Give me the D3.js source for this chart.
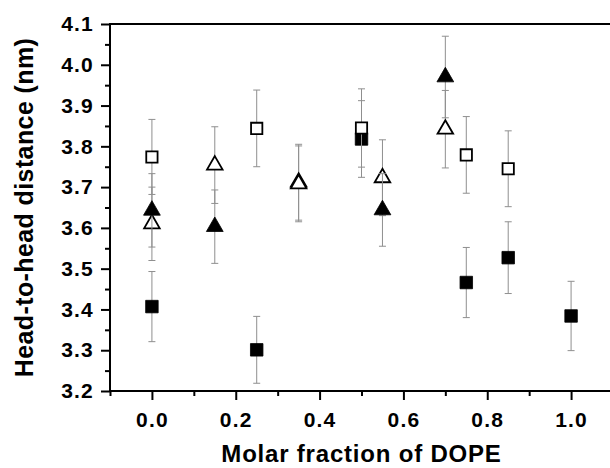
<!DOCTYPE html>
<html>
<head>
<meta charset="utf-8">
<script src="https://cdn.jsdelivr.net/npm/d3@7"></script>
<style>
  html, body { margin: 0; padding: 0; background: #fff; }
  svg { display: block; }
  text { font-family: "Liberation Sans", Arial, sans-serif; font-weight: bold; fill: #000; }
</style>
</head>
<body>
<svg id="chart" width="610" height="468"></svg>
<script>
// ---- data ----
const xTickValues = [0.0, 0.2, 0.4, 0.6, 0.8, 1.0];
const xTickLabels = ["0.0", "0.2", "0.4", "0.6", "0.8", "1.0"];
const yTickValues = [3.2, 3.3, 3.4, 3.5, 3.6, 3.7, 3.8, 3.9, 4.0, 4.1];
const yTickLabels = ["3.2", "3.3", "3.4", "3.5", "3.6", "3.7", "3.8", "3.9", "4.0", "4.1"];

const filledSquareX = [0, 0.25, 0.5, 0.75, 0.85, 1.0];
const filledSquareY = [3.407, 3.301, 3.818, 3.466, 3.527, 3.384];
const filledSquareErr = [0.086, 0.082, 0.094, 0.086, 0.088, 0.085];

const openSquareX = [0, 0.25, 0.5, 0.75, 0.85];
const openSquareY = [3.774, 3.844, 3.845, 3.779, 3.745];
const openSquareErr = [0.092, 0.094, 0.096, 0.094, 0.093];

const openTriX = [0, 0.15, 0.35, 0.35, 0.55, 0.7];
const openTriY = [3.610, 3.754, 3.712, 3.708, 3.723, 3.842];
const openTriErr = [0.090, 0.094, 0.093, 0.093, 0.093, 0.095];

const filledTriX = [0, 0.15, 0.55, 0.7];
const filledTriY = [3.643, 3.603, 3.644, 3.970];
const filledTriErr = [0.090, 0.090, 0.089, 0.100];

const xTitle = "Molar fraction of DOPE";
const yTitle = "Head-to-head distance (nm)";

// ---- layout ----
const svg = d3.select("#chart");
const x = d3.scaleLinear().domain([-0.1, 1.1]).range([110, 613]);
const y = d3.scaleLinear().domain([3.2, 4.1]).range([391, 24]);

// ---- axes ----
const xMinor = d3.range(-0.1, 1.1001, 0.1).map(v => +v.toFixed(2)).filter(v => !xTickValues.some(t => Math.abs(t - v) < 1e-6));
const yMinor = d3.range(3.25, 4.1, 0.1).map(v => +v.toFixed(2));

function styleAxis(g) {
  g.select(".domain").remove();
  g.selectAll(".tick line").attr("stroke", "#000").attr("stroke-width", 2);
}

// minor ticks
svg.append("g").attr("transform", `translate(0,${y.range()[0]})`)
  .call(d3.axisBottom(x).tickValues(xMinor).tickSize(5).tickFormat(""))
  .call(styleAxis);
svg.append("g").attr("transform", `translate(${x.range()[0]},0)`)
  .call(d3.axisLeft(y).tickValues(yMinor).tickSize(5).tickFormat(""))
  .call(styleAxis);

// major ticks
const gx = svg.append("g").attr("transform", `translate(0,${y.range()[0]})`)
  .call(d3.axisBottom(x).tickValues(xTickValues).tickSize(9).tickPadding(12)
    .tickFormat((d, i) => xTickLabels[i]))
  .call(styleAxis);
gx.selectAll(".tick text").attr("font-size", 21).attr("letter-spacing", "1.2px")
  .attr("font-family", "Liberation Sans, Arial, sans-serif").attr("font-weight", "bold").attr("fill", "#000");

const gy = svg.append("g").attr("transform", `translate(${x.range()[0]},0)`)
  .call(d3.axisLeft(y).tickValues(yTickValues).tickSize(9).tickPadding(7)
    .tickFormat((d, i) => yTickLabels[i]))
  .call(styleAxis);
gy.selectAll(".tick text").attr("font-size", 21).attr("letter-spacing", "1.2px")
  .attr("font-family", "Liberation Sans, Arial, sans-serif").attr("font-weight", "bold").attr("fill", "#000");

// axis lines (left, bottom, top)
const [x0, x1] = x.range();
const [yb, yt] = y.range();
svg.append("line").attr("x1", x0).attr("x2", x1).attr("y1", yb).attr("y2", yb).attr("stroke", "#000").attr("stroke-width", 2);
svg.append("line").attr("x1", x0).attr("x2", x1).attr("y1", yt).attr("y2", yt).attr("stroke", "#000").attr("stroke-width", 2);
svg.append("line").attr("x1", x0).attr("x2", x0).attr("y1", yb + 1).attr("y2", yt - 1).attr("stroke", "#000").attr("stroke-width", 2);

// titles
svg.append("text").attr("x", (x0 + x1) / 2).attr("y", 462)
  .attr("text-anchor", "middle").attr("font-size", 24).attr("letter-spacing", "0.8px")
  .text(xTitle);
svg.append("text").attr("transform", `translate(33,${(yb + yt) / 2}) rotate(-90)`)
  .attr("text-anchor", "middle").attr("font-size", 25).attr("letter-spacing", "0.4px")
  .text(yTitle);

// ---- series ----
function series(xs, ys, es, symbolType, size, fill, strokeW) {
  const data = xs.map((v, i) => ({ x: v, y: ys[i], e: es[i] }));
  const g = svg.append("g");
  const eb = g.append("g").attr("stroke", "#8f8f8f").attr("stroke-width", 1);
  data.forEach(d => {
    const cx = x(d.x), top = y(d.y + d.e), bot = y(d.y - d.e);
    eb.append("line").attr("x1", cx).attr("x2", cx).attr("y1", top).attr("y2", bot);
    eb.append("line").attr("x1", cx - 3.5).attr("x2", cx + 3.5).attr("y1", top).attr("y2", top);
    eb.append("line").attr("x1", cx - 3.5).attr("x2", cx + 3.5).attr("y1", bot).attr("y2", bot);
  });
  g.selectAll("path.m").data(data).join("path").attr("class", "m")
    .attr("transform", d => `translate(${x(d.x)},${y(d.y)})`)
    .attr("d", d3.symbol().type(symbolType).size(size))
    .attr("fill", fill).attr("stroke", "#000").attr("stroke-width", strokeW);
}

series(filledSquareX, filledSquareY, filledSquareErr, d3.symbolSquare, 12.5 * 12.5, "#000", 0.8);
series(openSquareX, openSquareY, openSquareErr, d3.symbolSquare, 11.3 * 11.3, "#fff", 1.8);
series(openTriX, openTriY, openTriErr, d3.symbolTriangle, 105, "#fff", 1.8);
series(filledTriX, filledTriY, filledTriErr, d3.symbolTriangle, 122, "#000", 0.8);
</script>
</body>
</html>
